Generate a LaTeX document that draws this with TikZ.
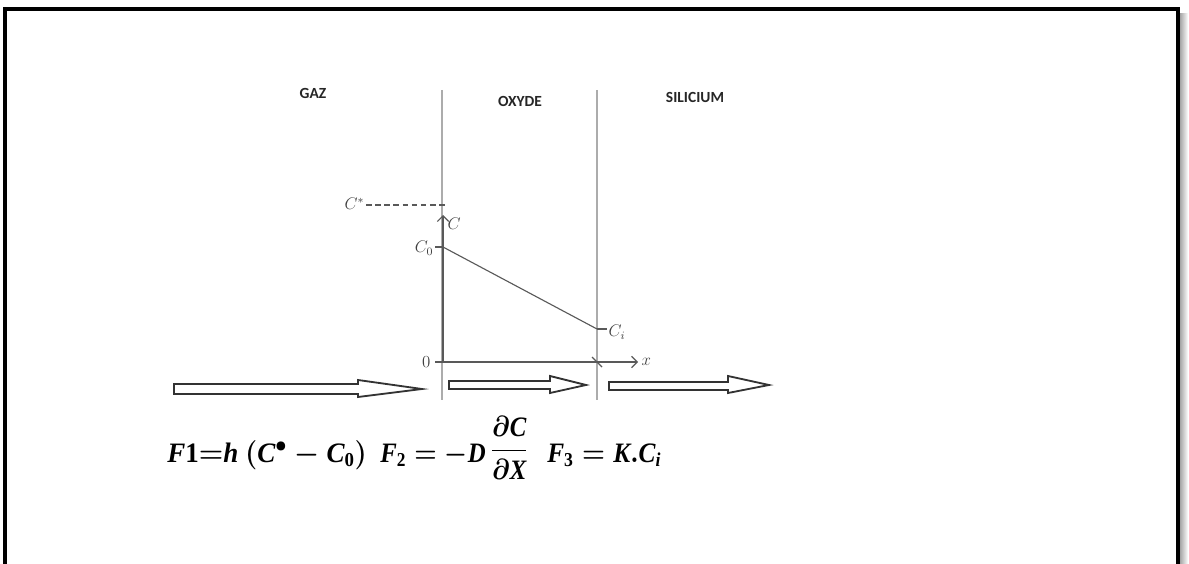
\documentclass[tikz,border=0pt]{standalone}
\usepackage{fontspec}
\setmainfont{Liberation Serif}
\newfontfamily\labelfont{Carlito}
\newfontfamily\eqfont{Liberation Serif}
\usetikzlibrary{arrows.meta}
\usepackage{amsmath}
\usepackage{graphicx}
\newcommand{\bi}[1]{\text{\eqfont\bfseries\itshape #1}}
\newcommand{\bn}[1]{\text{\eqfont\bfseries #1}}
\tikzset{
  layer line/.style={draw=gray!65, line width=2pt},
  axis line/.style={draw=black!65, line width=0.8pt},
  flux arrow/.style={draw=black!80, line width=1.3pt, fill=white, line join=miter},
  region label/.style={font=\labelfont\bfseries\fontsize{11}{12}\selectfont, text=black!85},
  plot label/.style={font=\fontsize{12}{14}\selectfont, text=black!75, inner sep=1pt},
  flux eq/.style={font=\fontsize{20}{24}\selectfont\boldmath, inner sep=0pt},
}
\begin{document}
\begin{tikzpicture}[x=0.025cm, y=-0.025cm]
  \useasboundingbox (0,0) rectangle (1189,564);
  % frame and shadow
  \shade[left color=gray!70, right color=white] (1180,14) rectangle (1188,564);
  \draw[line width=2.2pt] (5,564) -- (5,9) -- (1178,9) -- (1178,564);

  % interfaces
  \coordinate (G1) at (442,90);
  \coordinate (G2) at (442,400);
  \coordinate (S1) at (597,90);
  \coordinate (S2) at (597,400);
  \draw[layer line] (G1) -- (G2);
  \draw[layer line] (S1) -- (S2);
  \node[region label] (gaz) at (313,93) {GAZ};
  \node[region label] (oxyde) at (520,101) {OXYDE};
  \node[region label] (silicium) at (695,97) {SILICIUM};

  % concentration profile
  \coordinate (O) at (443,362);
  \coordinate (C0) at (443,247);
  \coordinate (Ci) at (597,329);
  \draw[axis line, -{Straight Barb[length=4pt]}] (435,362) -- (638,362);
  \draw[axis line, -{Straight Barb[length=4pt]}] (O) -- (443,215);
  \draw[axis line] (435,247) -- (C0);
  \draw[axis line] (Ci) -- (607,329);
  \draw[axis line] (592,357) -- (602,367);
  \draw[axis line] (C0) -- (Ci);
  \draw[axis line, dash pattern=on 4pt off 2.5pt] (366,205) -- (448,205);
  \node[plot label, anchor=east] (cstar) at (366,204) {$C^{*}$};
  \node[plot label, anchor=west] (cax) at (446,224) {$C$};
  \node[plot label, anchor=east] (c0) at (435,248) {$C_0$};
  \node[plot label, anchor=west] (ci) at (607,332) {$C_i$};
  \node[plot label, anchor=east] (zero) at (432,362) {$0$};
  \node[plot label, anchor=west] (xax) at (640,362) {$x$};

  % flux arrows
  \draw[flux arrow] (174,384) -- (358,384) -- (358,380) -- (422,389) -- (358,397) -- (358,394) -- (174,394) -- cycle;
  \draw[flux arrow] (449,381) -- (550,381) -- (550,376) -- (586,385) -- (550,393) -- (550,389) -- (449,389) -- cycle;
  \draw[flux arrow] (609,382) -- (728,382) -- (728,376) -- (769,385) -- (728,393) -- (728,390) -- (609,390) -- cycle;

  % flux equations
  \node[flux eq, anchor=base west] (f1) at (167,462)
    {\scalebox{0.96}[1]{$\bi{F}\bn{1}{=}\bi{h}\ (\bi{C}^{\bullet}-\bi{C}_{\bn{0}})$}};
  \node[flux eq, anchor=base west] (f2) at (380,462)
    {\scalebox{0.88}[1]{$\bi{F}_{\bn{2}}=-\bi{D}\,$\raisebox{3pt}{$\displaystyle\frac{\partial\bi{C}}{\partial\bi{X}}$}}};
  \node[flux eq, anchor=base west] (f3) at (547,462)
    {\scalebox{0.9}[1]{$\bi{F}_{\bn{3}}=\bi{K}.\bi{C}_{\bi{i}}$}};
\end{tikzpicture}
\end{document}
